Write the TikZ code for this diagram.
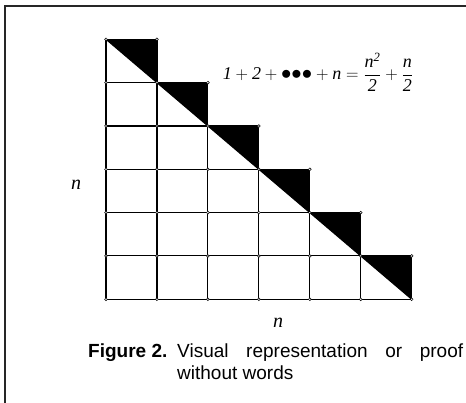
\documentclass[tikz,border=0pt]{standalone}
\usepackage{amsmath}
\usepackage{fontspec}
\setmainfont{Liberation Serif}
\setsansfont{Liberation Sans}
\usetikzlibrary{positioning}
\tikzset{
  rejilla/.style={line width=1.1pt, draw=black},
  marco/.style={line width=1.8pt, draw=black!85},
  vertice/.style={circle, draw=black, fill=white, inner sep=0pt,
    minimum size=2.8pt, line width=0.5pt},
  etq/.style={font=\fontsize{20}{24}\selectfont\itshape, inner sep=0pt},
  formula/.style={font=\fontsize{18}{22}\selectfont, inner sep=0pt},
  pie/.style={font=\sffamily\fontsize{19}{23}\selectfont, inner sep=0pt, anchor=base west},
}
\newcommand{\punto}{\raisebox{-0.3pt}{\scalebox{1.2}{$\bullet$}}}

\begin{document}
\begin{tikzpicture}[x=1pt, y=-1pt]
  \useasboundingbox (0,0) rectangle (466,403);
  \draw[marco] (5,403) -- (5,6) -- (466,6);
  \begin{scope}[shift={(106,39.3)}, x=50.95pt, y=-43.33pt]
    % escalera de triangulos negros
    \foreach \k in {0,...,5}
      \fill (\k,\k) -- (\k+1,\k) -- (\k+1,\k+1) -- cycle;
    \foreach \k in {0,...,5}
      \draw[rejilla] (0,\k) -- (\k+1,\k);
    \draw[rejilla] (0,6) -- (6,6);
    \draw[rejilla] (0,0) -- (0,6);
    \foreach \k in {1,...,6}
      \draw[rejilla] (\k,\k-1) -- (\k,6);
    \draw[rejilla] (0,0) -- (6,6);
    % puntos de la rejilla
    \foreach \j in {0,...,6} {
      \pgfmathtruncatemacro\m{min(\j+1,6)}
      \foreach \i in {0,...,\m}
        \node[vertice] (v-\i-\j) at (\i,\j) {};
    }
  \end{scope}
  \node[formula] (suma) at (318,72)
    {$\textit{1}+\textit{2}+\text{\punto\punto\punto}+\textit{n}
      =\dfrac{\textit{n}^{\textit{2}}}{\textit{2}}+\dfrac{\textit{n}}{\textit{2}}$};
  \node[etq] (nizq) at (76,185) {n};
  \node[etq] (ninf) at (278,323) {n};
  \node[pie, font=\sffamily\bfseries\fontsize{19}{23}\selectfont] (figura) at (88,357) {Figure 2.};
  \node[pie] (linea1) at (177,357)
    {\makebox[286pt][s]{Visual representation or proof}};
  \node[pie] (linea2) at (177,380) {without words};
\end{tikzpicture}
\end{document}
